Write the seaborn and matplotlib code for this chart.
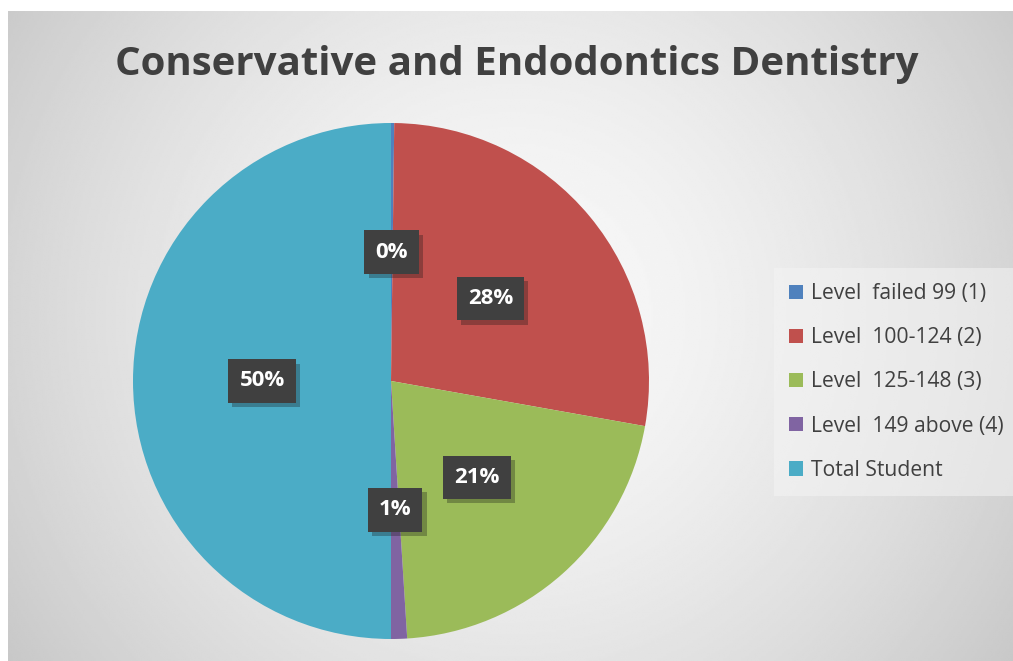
import numpy as np
import matplotlib
matplotlib.use('Agg')
import matplotlib.pyplot as plt
import matplotlib.patheffects as pe
import seaborn as sns

# values (percent of the whole pie)
categories = ['Level  failed 99 (1)', 'Level  100-124 (2)', 'Level  125-148 (3)',
              'Level  149 above (4)', 'Total Student']
shares = [0.2, 27.6, 21.2, 1.0, 50.0]
colors = sns.color_palette(['#4F81BD', '#C0504D', '#9BBB59', '#8064A2', '#4BACC6'])

sns.set_style('white')
plt.rcParams['font.family'] = ['Open Sans', 'DejaVu Sans']

W, H = 1013, 661
fig = plt.figure(figsize=(W / 100, H / 100), dpi=100, facecolor='white')

# radial grey background of the chart area
bg = fig.add_axes([8 / W, 0, 1 - 8 / W, 1 - 11 / H])
yy, xx = np.mgrid[0:300, 0:500]
r = np.sqrt(((xx - 250) / 250) ** 2 + ((yy - 140) / 230) ** 2)
shade = np.clip(0.975 - 0.14 * r ** 1.6, 0, 1)
bg.imshow(shade, cmap='gray', vmin=0, vmax=1, aspect='auto', interpolation='bilinear')
bg.axis('off')

# pie
cx, cy, rad = 391, 381, 258
ax = fig.add_axes([(cx - rad) / W, (H - cy - rad) / H, 2 * rad / W, 2 * rad / H])
wedges, texts, autotexts = ax.pie(
    shares, colors=colors, startangle=90, counterclock=False, radius=1,
    autopct=lambda p: f'{p:.0f}%', pctdistance=0.5,
    wedgeprops=dict(linewidth=0, edgecolor='none'),
    textprops=dict(color='white', fontsize=16, fontweight='bold'))
for t in autotexts:
    t.set_bbox(dict(boxstyle='square,pad=0.5', facecolor='#404040', edgecolor='none'))
    t.get_bbox_patch().set_path_effects([pe.SimplePatchShadow(offset=(3, -3), alpha=0.3),
                                         pe.Normal()])
ax.set_xlim(-1, 1)
ax.set_ylim(-1, 1)
ax.set_aspect('equal')
ax.axis('off')

fig.text(517 / W, 1 - 64 / H, 'Conservative and Endodontics Dentistry',
         ha='center', va='center', fontsize=29, fontweight='bold', color='#404040')

leg = fig.legend(wedges, categories, loc='center left', bbox_to_anchor=(774 / W, 1 - 382 / H),
                 frameon=True, fontsize=15.2, labelcolor='#404040', handlelength=0.65,
                 handleheight=0.65, handletextpad=0.4, labelspacing=1.1, borderpad=0.7,
                 borderaxespad=0, fancybox=False)
leg.get_frame().set_facecolor('#f4f4f4')
leg.get_frame().set_alpha(0.55)
leg.get_frame().set_edgecolor('none')

fig.savefig('out.png', dpi=100, facecolor='white')
